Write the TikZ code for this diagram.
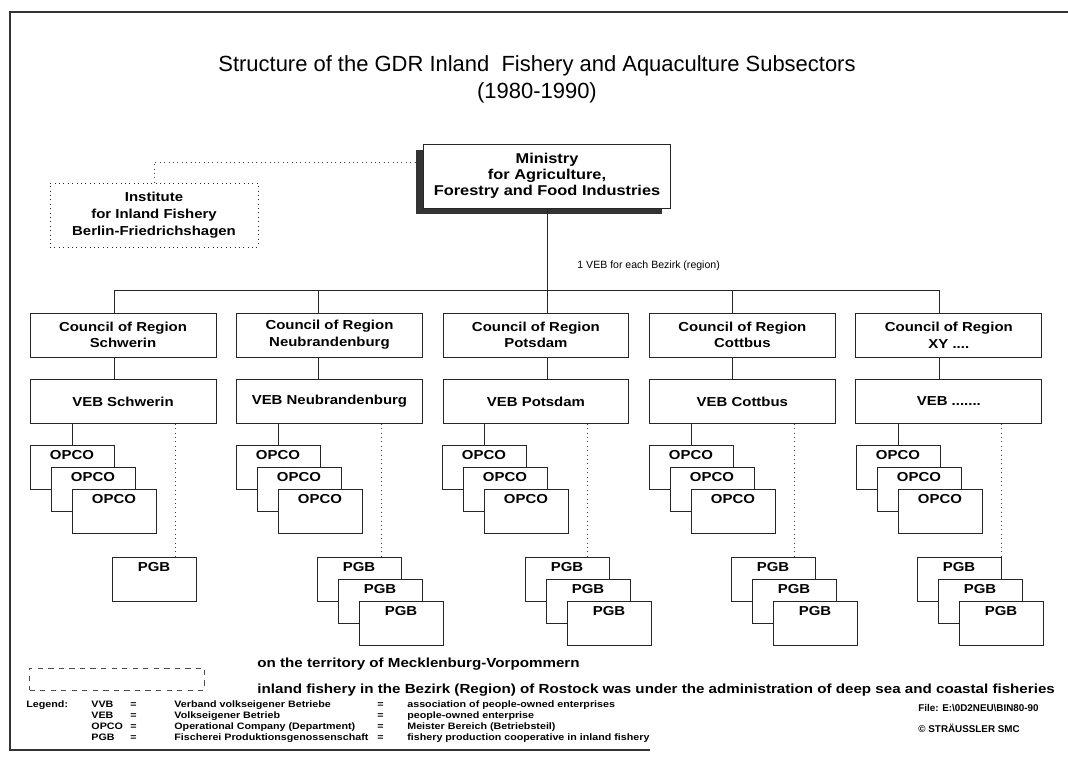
\documentclass[tikz,border=0pt]{standalone}
\usepackage{fontspec}
\setmainfont{Liberation Sans}
\newfontfamily\widefont[FakeStretch=1.15]{Liberation Sans}
\usepackage{tikz}
\usetikzlibrary{positioning,shadows}

\begin{document}
\begin{tikzpicture}[x=0.02cm, y=-0.02cm, line width=0.5pt, node distance=4.13cm]
      \useasboundingbox (0,0) rectangle (1068,777);
      \tikzstyle{line} = [draw=black!85]
      \tikzstyle{link} = [draw=black!75, dotted]
      \tikzstyle{box} = [rectangle, draw=black!85, fill=white, align=center, inner sep=1pt,
         font=\widefont\bfseries\fontsize{7.4}{9.5}\selectfont]
      \tikzstyle{region} = [box, minimum width=3.72cm, minimum height=0.88cm]
      \tikzstyle{unit} = [box, minimum width=1.68cm, inner sep=2pt, text height=6pt, text depth=15pt]
      \tikzstyle{legend} = [anchor=west, inner sep=0pt, font=\widefont\bfseries\fontsize{5.3}{6.1}\selectfont]
      %frame
      \draw[black!80, line width=0.8pt] (1068,12) -- (10,12) -- (10,750) -- (650,750);
      %title
      \node (title) at (537,66) [font=\fontsize{12.5}{15}\selectfont] {Structure of the GDR Inland\ \ Fishery and Aquaculture Subsectors};
      \node (years) [below of=title, node distance=0.54cm, font=\fontsize{12.5}{15}\selectfont] {(1980-1990)};
      %top
      \node[box, minimum width=4.94cm, minimum height=1.28cm, font=\widefont\bfseries\fontsize{8.1}{9}\selectfont,
         drop shadow={shadow xshift=-0.16cm, shadow yshift=-0.12cm, fill=black!80, opacity=1}] (ministry) at (547,176)
         {Ministry\\for Agriculture,\\Forestry and Food Industries};
      \node[box, dotted, minimum width=4.16cm, minimum height=1.28cm] (institute) at (154,215)
         {Institute\\for Inland Fishery\\Berlin-Friedrichshagen};
      \coordinate (minleft) at (415,162);
      \node[anchor=west, inner sep=0pt, font=\fontsize{6}{8}\selectfont] (perbezirk) at (577,266) {1 VEB for each Bezirk (region)};
      %regions
      \node[region] (c1) at (123,335) {Council of Region\\Schwerin};
      \node[region] (c2) [right of=c1] {Council of Region\\Neubrandenburg};
      \node[region] (c3) [right of=c2] {Council of Region\\Potsdam};
      \node[region] (c4) [right of=c3] {Council of Region\\Cottbus};
      \node[region] (c5) [right of=c4] {Council of Region\\XY ....};
      \node[region] (v1) [below of=c1, node distance=1.33cm] {VEB Schwerin};
      \node[region] (v2) [below of=c2, node distance=1.33cm] {VEB Neubrandenburg};
      \node[region] (v3) [below of=c3, node distance=1.33cm] {VEB Potsdam};
      \node[region] (v4) [below of=c4, node distance=1.33cm] {VEB Cottbus};
      \node[region] (v5) [below of=c5, node distance=1.33cm] {VEB .......};
      %opco
      \node[unit] (o11) at (72,467) {OPCO};
      \node[unit, on grid, below right=0.44cm and 0.42cm of o11] (o12) {OPCO};
      \node[unit, on grid, below right=0.44cm and 0.42cm of o12] (o13) {OPCO};
      \node[unit] (o21) at (278,467) {OPCO};
      \node[unit, on grid, below right=0.44cm and 0.42cm of o21] (o22) {OPCO};
      \node[unit, on grid, below right=0.44cm and 0.42cm of o22] (o23) {OPCO};
      \node[unit] (o31) at (484,467) {OPCO};
      \node[unit, on grid, below right=0.44cm and 0.42cm of o31] (o32) {OPCO};
      \node[unit, on grid, below right=0.44cm and 0.42cm of o32] (o33) {OPCO};
      \node[unit] (o41) at (691,467) {OPCO};
      \node[unit, on grid, below right=0.44cm and 0.42cm of o41] (o42) {OPCO};
      \node[unit, on grid, below right=0.44cm and 0.42cm of o42] (o43) {OPCO};
      \node[unit] (o51) at (898,467) {OPCO};
      \node[unit, on grid, below right=0.44cm and 0.42cm of o51] (o52) {OPCO};
      \node[unit, on grid, below right=0.44cm and 0.42cm of o52] (o53) {OPCO};
      %pgb
      \node[unit] (p11) at (154,579) {PGB};
      \node[unit] (p21) at (359,579) {PGB};
      \node[unit, on grid, below right=0.44cm and 0.42cm of p21] (p22) {PGB};
      \node[unit, on grid, below right=0.44cm and 0.42cm of p22] (p23) {PGB};
      \node[unit] (p31) at (567,579) {PGB};
      \node[unit, on grid, below right=0.44cm and 0.42cm of p31] (p32) {PGB};
      \node[unit, on grid, below right=0.44cm and 0.42cm of p32] (p33) {PGB};
      \node[unit] (p41) at (773,579) {PGB};
      \node[unit, on grid, below right=0.44cm and 0.42cm of p41] (p42) {PGB};
      \node[unit, on grid, below right=0.44cm and 0.42cm of p42] (p43) {PGB};
      \node[unit] (p51) at (959,579) {PGB};
      \node[unit, on grid, below right=0.44cm and 0.42cm of p51] (p52) {PGB};
      \node[unit, on grid, below right=0.44cm and 0.42cm of p52] (p53) {PGB};
      %lines
      \coordinate (t1) at (114,290);
      \coordinate (t2) at (318,290);
      \coordinate (t3) at (547,290);
      \coordinate (t4) at (732,290);
      \coordinate (t5) at (939,290);
      \coordinate (q1) at (175,0);
      \coordinate (q2) at (381,0);
      \coordinate (q3) at (587,0);
      \coordinate (q4) at (794,0);
      \coordinate (q5) at (1001,0);
      \draw [link] (institute.north) |- (minleft);
      \draw [line] (ministry.south) -- (ministry.south |- t3);
      \draw [line] (t1) -- (t5);
      \draw [line] (t1) -- (t1 |- c1.north);
      \draw [line] (t2) -- (t2 |- c2.north);
      \draw [line] (t3) -- (t3 |- c3.north);
      \draw [line] (t4) -- (t4 |- c4.north);
      \draw [line] (t5) -- (t5 |- c5.north);
      \draw [line] (c1.south -| t1) -- (v1.north -| t1);
      \draw [line] (c2.south -| t2) -- (v2.north -| t2);
      \draw [line] (c3.south -| t3) -- (v3.north -| t3);
      \draw [line] (c4.south -| t4) -- (v4.north -| t4);
      \draw [line] (c5.south -| t5) -- (v5.north -| t5);
      \draw [line] (v1.south -| o11.north) -- (o11.north);
      \draw [line] (v2.south -| o21.north) -- (o21.north);
      \draw [line] (v3.south -| o31.north) -- (o31.north);
      \draw [line] (v4.south -| o41.north) -- (o41.north);
      \draw [line] (v5.south -| o51.north) -- (o51.north);
      \draw [link] (v1.south -| q1) -- (p11.north -| q1);
      \draw [link] (v2.south -| q2) -- (p21.north -| q2);
      \draw [link] (v3.south -| q3) -- (p31.north -| q3);
      \draw [link] (v4.south -| q4) -- (p41.north -| q4);
      \draw [link] (v5.south -| q5) -- (p51.north -| q5);
      %legend
      \node[draw=black!70, dashed, thin, minimum width=3.5cm, minimum height=0.44cm] (territory) at (117,679) {};
      \node[anchor=west, inner sep=0pt, font=\widefont\bfseries\fontsize{7.5}{9}\selectfont] (mv) at (257,664) {on the territory of Mecklenburg-Vorpommern};
      \node[anchor=west, inner sep=0pt, font=\widefont\bfseries\fontsize{7.5}{9}\selectfont] (rostock) at (257,690) {inland fishery in the Bezirk (Region) of Rostock was under the administration of deep sea and coastal fisheries};
      \node[legend, anchor=north west] (abbrev) at (26,700) {%
         \begin{tabular}{@{}p{1.3cm}@{}p{0.78cm}@{}p{0.88cm}@{}p{4.06cm}@{}p{0.6cm}@{}l@{}}
         Legend: & VVB & = & Verband volkseigener Betriebe & = & association of people-owned enterprises\\
                 & VEB & = & Volkseigener Betrieb & = & people-owned enterprise\\
                 & OPCO & = & Operational Company (Department) & = & Meister Bereich (Betriebsteil)\\
                 & PGB & = & Fischerei Produktionsgenossenschaft & = & fishery production cooperative in inland fishery
         \end{tabular}};
      \node[anchor=west, inner sep=0pt, font=\bfseries\fontsize{5.6}{7}\selectfont] (file) at (918,708) {File: E:\textbackslash 0D2NEU\textbackslash BIN80-90};
      \node[anchor=west, inner sep=0pt, font=\bfseries\fontsize{5.6}{7}\selectfont] (copyright) at (918,728) {\textcopyright\ STRÄUSSLER SMC};
\end{tikzpicture}
\end{document}
